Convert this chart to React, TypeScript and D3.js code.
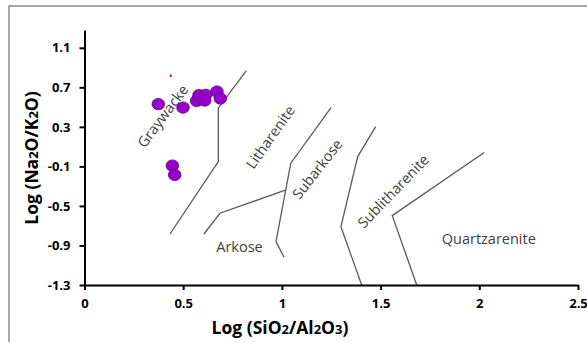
import React, { useEffect, useRef } from 'react';
import * as d3 from 'd3';

// sample points, log(SiO2/Al2O3) vs log(Na2O/K2O)
const sampleX = [0.374, 0.499, 0.568, 0.580, 0.614, 0.609, 0.671, 0.688, 0.445, 0.457];
const sampleY = [0.530, 0.495, 0.563, 0.621, 0.624, 0.566, 0.657, 0.587, -0.092, -0.186];
const markerX = [0.437];
const markerY = [0.816];

const xTicks = [0, 0.5, 1, 1.5, 2, 2.5];
const yTicks = [-1.3, -0.9, -0.5, -0.1, 0.3, 0.7, 1.1];

// field boundaries (Herron 1988)
const boundaries: [number, number][][] = [
  [[0.82, 0.87], [0.678, 0.492], [0.678, -0.051], [0.433, -0.784]],
  [[1.249, 0.495], [1.045, -0.068], [0.97, -0.861], [1.011, -1.019]],
  [[1.021, -0.338], [0.686, -0.574], [0.605, -0.784]],
  [[1.475, 0.303], [1.384, -0.001], [1.299, -0.71], [1.404, -1.3]],
  [[2.025, 0.04], [1.559, -0.598], [1.683, -1.3]],
];

const fieldNames = ['Graywacke', 'Litharenite', 'Subarkose', 'Sublitharenite', 'Arkose', 'Quartzarenite'];
const fieldX = [0.395, 0.94, 1.178, 1.563, 0.785, 2.048];
const fieldY = [0.411, 0.199, -0.125, -0.348, -0.915, -0.834];
const fieldAngle = [-53, -55, -52, -46, 0, 0];

const App: React.FC = () => {
  const ref = useRef<SVGSVGElement>(null);

  useEffect(() => {
    if (!ref.current) return;
    const svg = d3.select(ref.current);
    svg.selectAll('*').remove();

    const left = 84.5, right = 578, top = 30, bottom = 285;
    const x = d3.scaleLinear().domain([0, 2.5]).range([left, right]);
    const y = d3.scaleLinear().domain([-1.3, 1.28]).range([bottom, top]);
    const font = '"Open Sans", Lato, sans-serif';

    // outer frame
    svg.append('rect')
      .attr('x', 9).attr('y', 6)
      .attr('width', 600).attr('height', 360)
      .attr('fill', 'white')
      .attr('stroke', '#8a8a8a')
      .attr('stroke-width', 1.5);

    // boundary lines
    const line = d3.line<[number, number]>().x(d => x(d[0])).y(d => y(d[1]));
    boundaries.forEach(b => {
      svg.append('path')
        .attr('d', line(b))
        .attr('fill', 'none')
        .attr('stroke', '#595959')
        .attr('stroke-width', 1.3);
    });

    // field labels
    fieldNames.forEach((name, i) => {
      svg.append('text')
        .attr('transform', `translate(${x(fieldX[i])},${y(fieldY[i])}) rotate(${fieldAngle[i]})`)
        .attr('text-anchor', 'middle')
        .attr('dominant-baseline', 'central')
        .attr('font-family', font)
        .attr('font-size', 14.5)
        .attr('fill', '#404040')
        .text(name);
    });

    // axes
    const xAxis = svg.append('g')
      .attr('transform', `translate(0,${bottom})`)
      .call(d3.axisBottom(x).tickValues(xTicks).tickSize(5).tickSizeOuter(0).tickPadding(9)
        .tickFormat(d => String(d)));
    const yAxis = svg.append('g')
      .attr('transform', `translate(${left},0)`)
      .call(d3.axisLeft(y).tickValues(yTicks).tickSize(5).tickSizeOuter(0).tickPadding(9)
        .tickFormat(d => String(d)));
    [xAxis, yAxis].forEach(a => {
      a.select('.domain').attr('stroke', '#000').attr('stroke-width', 2);
      a.selectAll('.tick line').attr('stroke', '#000').attr('stroke-width', 2);
      a.selectAll('.tick text')
        .attr('font-family', font)
        .attr('font-weight', 'bold')
        .attr('font-size', 13)
        .attr('fill', '#000');
    });

    // samples
    svg.selectAll('.sample')
      .data(sampleX.map((v, i) => [v, sampleY[i]]))
      .enter()
      .append('ellipse')
      .attr('class', 'sample')
      .attr('cx', d => x(d[0]))
      .attr('cy', d => y(d[1]))
      .attr('rx', 6.3)
      .attr('ry', 5.7)
      .attr('fill', '#9900cc')
      .attr('stroke', '#5c0080')
      .attr('stroke-width', 0.8);

    svg.selectAll('.marker')
      .data(markerX.map((v, i) => [v, markerY[i]]))
      .enter()
      .append('circle')
      .attr('cx', d => x(d[0]))
      .attr('cy', d => y(d[1]))
      .attr('r', 1.3)
      .attr('fill', '#e0202a');

    // axis titles
    const xt = svg.append('text')
      .attr('x', 280).attr('y', 334)
      .attr('text-anchor', 'middle')
      .attr('font-family', font)
      .attr('font-weight', 'bold')
      .attr('font-size', 17.5)
      .attr('fill', '#000');
    xt.append('tspan').text('Log (SiO');
    xt.append('tspan').attr('font-size', 13).text('2');
    xt.append('tspan').text('/Al');
    xt.append('tspan').attr('font-size', 13).text('2');
    xt.append('tspan').text('O');
    xt.append('tspan').attr('font-size', 13).text('3');
    xt.append('tspan').text(')');

    const yt = svg.append('text')
      .attr('transform', 'translate(38,158) rotate(-90)')
      .attr('text-anchor', 'middle')
      .attr('font-family', font)
      .attr('font-weight', 'bold')
      .attr('font-size', 17.5)
      .attr('fill', '#000');
    yt.append('tspan').text('Log (Na');
    yt.append('tspan').attr('font-size', 13).text('2');
    yt.append('tspan').text('O/K');
    yt.append('tspan').attr('font-size', 13).text('2');
    yt.append('tspan').text('O)');
  }, []);

  return (
    <svg
      ref={ref}
      width={587}
      height={342}
      style={{ position: 'absolute', left: 0, top: 0, background: 'white' }}
    />
  );
};

export default App;
